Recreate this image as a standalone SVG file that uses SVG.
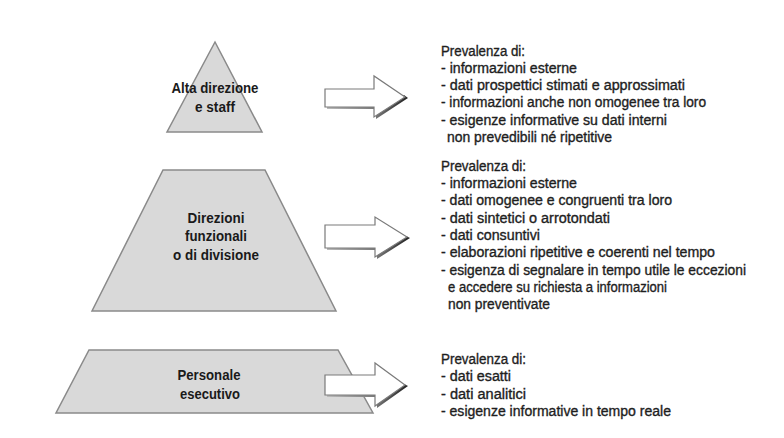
<svg xmlns="http://www.w3.org/2000/svg" width="784" height="438" viewBox="0 0 784 438">
<defs>
<style>
.shape{fill:#d9d9d9;stroke:#8a8a8a;stroke-width:1.5;stroke-linejoin:miter}
.lbl{font-family:"Liberation Sans","Arial",sans-serif;font-weight:bold;font-size:14.5px;fill:#1a1a1a;text-anchor:middle}
.txt{font-family:"Liberation Sans","Arial",sans-serif;font-size:14px;fill:#1e1e1e;stroke:#1e1e1e;stroke-width:0.35}
.arrow{fill:#ffffff;stroke:#7a7a7a;stroke-width:1.2;stroke-linejoin:miter}
.shadow{fill:url(#sh);stroke:none}
</style>
<linearGradient id="sh" x1="0" y1="0" x2="1" y2="0">
<stop offset="0" stop-color="#bbbbbb"/>
<stop offset="0.6" stop-color="#777777"/>
<stop offset="1" stop-color="#222222"/>
</linearGradient>
</defs>
<rect width="784" height="438" fill="#ffffff"/>

<g id="node-alta">
<polygon class="shape" points="215,42 262,132 167,132"/>
<text class="lbl" x="215" y="93" textLength="87" lengthAdjust="spacingAndGlyphs">Alta direzione</text>
<text class="lbl" x="215" y="112" textLength="40" lengthAdjust="spacingAndGlyphs">e staff</text>
</g>

<g id="node-direzioni">
<polygon class="shape" points="163,170 265,170 336,311 92,311"/>
<text class="lbl" x="216" y="223" textLength="57" lengthAdjust="spacingAndGlyphs">Direzioni</text>
<text class="lbl" x="216" y="241" textLength="62" lengthAdjust="spacingAndGlyphs">funzionali</text>
<text class="lbl" x="216" y="260" textLength="86" lengthAdjust="spacingAndGlyphs">o di divisione</text>
</g>

<g id="node-personale">
<polygon class="shape" points="89,350 338,350 373,413 56,413"/>
<text class="lbl" x="209" y="380" textLength="63" lengthAdjust="spacingAndGlyphs">Personale</text>
<text class="lbl" x="210" y="399" textLength="60" lengthAdjust="spacingAndGlyphs">esecutivo</text>
</g>

<g id="connectors">
<polygon class="shadow" points="327,109 376,109 376,119 408,98 404,95 374,116 374,107 327,107"/>
<polygon class="arrow" points="325,89 374,89 374,76 405,97 374,117 374,107 325,107"/>
<polygon class="shadow" points="327,250 377,250 377,259 410,238 406,236 375,256 375,248 327,248"/>
<polygon class="arrow" points="325,225 375,225 375,217 407,237 375,257 375,248 325,248"/>
<polygon class="shadow" points="327,397 377,397 377,408 408,386 404,384 375,405 375,395 327,395"/>
<polygon class="arrow" points="325,375 375,375 375,363 405,385 375,406 375,395 325,395"/>
</g>

<g id="text-alta">
<text class="txt" x="441" y="55.5" textLength="84" lengthAdjust="spacingAndGlyphs">Prevalenza di:</text>
<text class="txt" x="441" y="72.8" textLength="136" lengthAdjust="spacingAndGlyphs">- informazioni esterne</text>
<text class="txt" x="441" y="90" textLength="244" lengthAdjust="spacingAndGlyphs">- dati prospettici stimati e approssimati</text>
<text class="txt" x="441" y="107.3" textLength="265" lengthAdjust="spacingAndGlyphs">- informazioni anche non omogenee tra loro</text>
<text class="txt" x="441" y="124.6" textLength="226" lengthAdjust="spacingAndGlyphs">- esigenze informative su dati interni</text>
<text class="txt" x="447" y="142" textLength="165" lengthAdjust="spacingAndGlyphs">non prevedibili né ripetitive</text>
</g>

<g id="text-direzioni">
<text class="txt" x="441" y="170.7" textLength="85" lengthAdjust="spacingAndGlyphs">Prevalenza di:</text>
<text class="txt" x="441" y="188" textLength="136" lengthAdjust="spacingAndGlyphs">- informazioni esterne</text>
<text class="txt" x="441" y="205.3" textLength="231" lengthAdjust="spacingAndGlyphs">- dati omogenee e congruenti tra loro</text>
<text class="txt" x="441" y="222.6" textLength="169" lengthAdjust="spacingAndGlyphs">- dati sintetici o arrotondati</text>
<text class="txt" x="441" y="240" textLength="99" lengthAdjust="spacingAndGlyphs">- dati consuntivi</text>
<text class="txt" x="441" y="257.3" textLength="274" lengthAdjust="spacingAndGlyphs">- elaborazioni ripetitive e coerenti nel tempo</text>
<text class="txt" x="441" y="274.6" textLength="305" lengthAdjust="spacingAndGlyphs">- esigenza di segnalare in tempo utile le eccezioni</text>
<text class="txt" x="448" y="292" textLength="219" lengthAdjust="spacingAndGlyphs">e accedere su richiesta a informazioni</text>
<text class="txt" x="448" y="309.3" textLength="102" lengthAdjust="spacingAndGlyphs">non preventivate</text>
</g>

<g id="text-personale">
<text class="txt" x="441" y="364" textLength="85" lengthAdjust="spacingAndGlyphs">Prevalenza di:</text>
<text class="txt" x="441" y="381.3" textLength="70" lengthAdjust="spacingAndGlyphs">- dati esatti</text>
<text class="txt" x="441" y="398.6" textLength="85" lengthAdjust="spacingAndGlyphs">- dati analitici</text>
<text class="txt" x="441" y="415.5" textLength="230" lengthAdjust="spacingAndGlyphs">- esigenze informative in tempo reale</text>
</g>
</svg>
